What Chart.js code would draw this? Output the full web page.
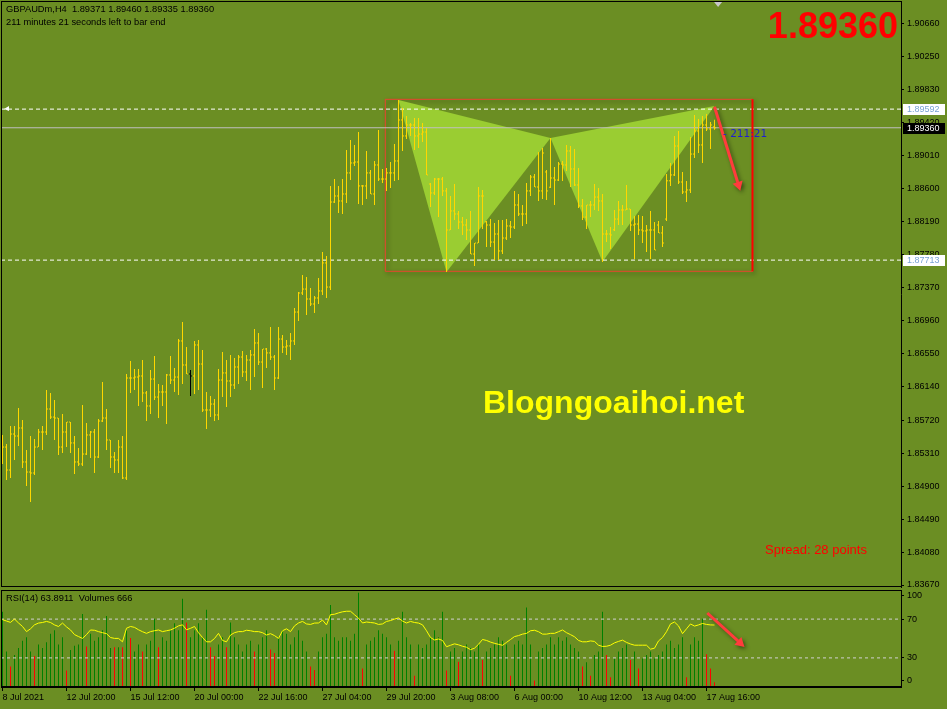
<!DOCTYPE html>
<html><head><meta charset="utf-8">
<script src="https://cdn.jsdelivr.net/npm/chart.js@4.4.0/dist/chart.umd.min.js"></script>
<style>
html,body{margin:0;padding:0;background:#6B8E23;}
#wrap{position:relative;width:947px;height:709px;overflow:hidden;background:#6B8E23;font-family:"Liberation Sans",Arial,sans-serif;}
#main{position:absolute;left:0;top:0;}
#sub{position:absolute;left:0;top:585px;}
.t{position:absolute;white-space:pre;z-index:5;}
</style></head><body>
<div id="wrap">
<canvas id="main" width="947" height="592"></canvas>
<canvas id="sub" width="947" height="124"></canvas>
<div class="t" id="title1" style="left:6px;top:5.4px;font-size:9.3px;line-height:9.3px;color:#000;"></div>
<div class="t" id="title2" style="left:6px;top:18.3px;font-size:9.3px;line-height:9.3px;color:#000;"></div>
<div class="t" id="bigPrice" style="right:49px;top:7.5px;font-size:36px;line-height:36px;font-weight:bold;color:#ff0000;text-align:right;"></div>
<div class="t" id="spread" style="left:765px;top:543px;font-size:13px;line-height:13px;color:#ff0000;"></div>
<div class="t" id="mark" style="left:483px;top:386px;font-size:32px;line-height:32px;font-weight:bold;color:#ffff00;"></div>
<div class="t" id="subTitle" style="left:6px;top:593.6px;font-size:9.3px;line-height:9.3px;color:#000;"></div>
</div>
<script>
// ---------- data ----------
const SYMBOL = 'GBPAUDm,H4';
const OPEN = [1.85350,1.85387,1.85101,1.85549,1.85524,1.85624,1.85201,1.85076,1.85064,1.85387,
1.85574,1.85574,1.85860,1.85760,1.85748,1.85387,1.85574,1.85698,1.85438,1.85201,
1.85176,1.85300,1.85537,1.85574,1.85263,1.85711,1.85748,1.85475,1.85263,1.85226,
1.85387,1.85002,1.86246,1.86246,1.86258,1.86271,1.86060,1.85898,1.86233,1.86009,
1.86072,1.86072,1.86284,1.86221,1.86258,1.86707,1.86408,1.86296,1.86271,1.86657,
1.86420,1.85848,1.85848,1.85922,1.85786,1.86221,1.86309,1.86209,1.86159,1.86383,
1.86507,1.86321,1.86470,1.86533,1.86682,1.86445,1.86607,1.86558,1.86507,1.86246,
1.86731,1.86632,1.86645,1.86707,1.87067,1.87304,1.87353,1.87229,1.87167,1.87242,
1.87329,1.87678,1.87378,1.88436,1.88511,1.88449,1.88536,1.88798,1.88922,1.88934,
1.88636,1.88636,1.88798,1.88536,1.88897,1.88722,1.88722,1.88798,1.88798,1.88947,
1.89457,1.89258,1.89395,1.89395,1.89258,1.89282,1.89307,1.88660,1.88549,1.88722,
1.88722,1.88574,1.88088,1.88325,1.88287,1.88187,1.88150,1.88088,1.87789,1.87926,
1.88511,1.88190,1.88150,1.87938,1.88038,1.87827,1.87988,1.88138,1.88125,1.88399,
1.88287,1.88287,1.88574,1.88747,1.88623,1.88574,1.88810,1.88620,1.88735,1.88710,
1.88909,1.88897,1.89071,1.88847,1.88648,1.88387,1.88249,1.88399,1.88399,1.88498,
1.88449,1.88038,1.88038,1.88090,1.88224,1.88337,1.88337,1.88349,1.88150,1.88162,
1.88088,1.88076,1.88088,1.88088,1.88150,1.88051,1.88224,1.88700,1.88773,1.89133,
1.88685,1.88561,1.88586,1.89033,1.89320,1.89146,1.89395,1.89345,1.89371];
const HIGH = [1.85537,1.85425,1.85648,1.85648,1.85873,1.85723,1.85350,1.85524,1.85487,1.85611,
1.85648,1.86097,1.86060,1.85972,1.85748,1.85798,1.85698,1.85698,1.85524,1.85375,
1.85910,1.85686,1.85587,1.85611,1.85735,1.86196,1.85860,1.85475,1.85325,1.85475,
1.85524,1.86296,1.86458,1.86358,1.86358,1.86470,1.86085,1.86346,1.86520,1.86171,
1.86159,1.86296,1.86520,1.86371,1.86731,1.86943,1.86632,1.86346,1.86707,1.86719,
1.86595,1.86072,1.86022,1.85984,1.86358,1.86570,1.86470,1.86533,1.86495,1.86533,
1.86583,1.86533,1.86595,1.86855,1.86806,1.86607,1.86620,1.86880,1.86533,1.86880,
1.86781,1.86719,1.86806,1.87117,1.87316,1.87528,1.87503,1.87366,1.87267,1.87491,
1.87814,1.87765,1.88636,1.88722,1.88636,1.88722,1.89083,1.89208,1.89146,1.89307,
1.88648,1.89071,1.88835,1.88947,1.89332,1.88847,1.88860,1.88934,1.89158,1.89706,
1.89606,1.89507,1.89420,1.89482,1.89482,1.89420,1.89357,1.88673,1.88735,1.88735,
1.88747,1.88611,1.88511,1.88660,1.88325,1.88249,1.88224,1.88325,1.87926,1.88623,
1.88586,1.88200,1.88224,1.88175,1.88212,1.88212,1.88224,1.88200,1.88574,1.88536,
1.88399,1.88673,1.88773,1.88785,1.89058,1.89108,1.88835,1.89233,1.88872,1.88934,
1.88947,1.89146,1.89133,1.89095,1.88860,1.88474,1.88399,1.88449,1.88660,1.88611,
1.88536,1.88088,1.88125,1.88337,1.88449,1.88399,1.88648,1.88349,1.88262,1.88274,
1.88262,1.88150,1.88325,1.88187,1.88200,1.88138,1.88785,1.88922,1.89258,1.89320,
1.88810,1.88698,1.89245,1.89519,1.89469,1.89507,1.89532,1.89432,1.89460];
const LOW = [1.85176,1.84977,1.85002,1.85226,1.85400,1.85126,1.84902,1.84703,1.85039,1.85387,
1.85350,1.85537,1.85735,1.85475,1.85288,1.85313,1.85387,1.85313,1.85051,1.85151,
1.85151,1.85288,1.85251,1.85064,1.85251,1.85698,1.85350,1.85126,1.85064,1.85064,
1.84989,1.84977,1.86060,1.86097,1.85898,1.85947,1.85711,1.85798,1.85972,1.85748,
1.85898,1.85673,1.86171,1.86072,1.86035,1.86171,1.86296,1.86022,1.86047,1.86097,
1.85823,1.85611,1.85760,1.85711,1.85723,1.86009,1.85885,1.86009,1.86109,1.86171,
1.86258,1.86209,1.86097,1.86258,1.86408,1.86122,1.86371,1.86470,1.86097,1.86233,
1.86558,1.86533,1.86470,1.86657,1.86956,1.87279,1.87030,1.87142,1.87055,1.87167,
1.87279,1.87242,1.87341,1.88424,1.88300,1.88287,1.88424,1.88710,1.88885,1.88411,
1.88399,1.88474,1.88536,1.88399,1.88698,1.88673,1.88574,1.88611,1.88698,1.88710,
1.89071,1.89220,1.89258,1.89083,1.89108,1.89183,1.88773,1.88374,1.88524,1.88249,
1.88511,1.87565,1.88088,1.88212,1.88100,1.88026,1.87963,1.87789,1.87640,1.87926,
1.88100,1.87876,1.87876,1.87715,1.87715,1.87789,1.87963,1.87988,1.88100,1.88262,
1.88138,1.88162,1.88511,1.88623,1.88449,1.88474,1.88461,1.88611,1.88399,1.88698,
1.88698,1.88823,1.88623,1.88636,1.88362,1.88212,1.88100,1.88249,1.88337,1.88325,
1.87690,1.87938,1.87851,1.88076,1.88150,1.88150,1.88337,1.88076,1.87727,1.88026,
1.87926,1.87814,1.87727,1.87839,1.88051,1.87876,1.88200,1.88636,1.88760,1.88660,
1.88536,1.88436,1.88549,1.88984,1.89046,1.88922,1.89320,1.89095,1.89335];
const CLOSE = [1.85387,1.85101,1.85549,1.85524,1.85624,1.85201,1.85076,1.85064,1.85387,1.85574,
1.85574,1.85860,1.85760,1.85748,1.85387,1.85574,1.85698,1.85438,1.85201,1.85176,
1.85300,1.85537,1.85574,1.85263,1.85711,1.85748,1.85475,1.85263,1.85226,1.85387,
1.85002,1.86246,1.86246,1.86258,1.86271,1.86060,1.85898,1.86233,1.86009,1.86072,
1.86072,1.86284,1.86221,1.86258,1.86707,1.86408,1.86296,1.86271,1.86657,1.86420,
1.85848,1.85848,1.85922,1.85786,1.86221,1.86309,1.86209,1.86159,1.86383,1.86507,
1.86321,1.86470,1.86533,1.86682,1.86445,1.86607,1.86558,1.86507,1.86246,1.86731,
1.86632,1.86645,1.86707,1.87067,1.87304,1.87353,1.87229,1.87167,1.87242,1.87329,
1.87678,1.87378,1.88436,1.88511,1.88449,1.88536,1.88798,1.88922,1.88934,1.88636,
1.88636,1.88798,1.88536,1.88897,1.88722,1.88722,1.88798,1.88798,1.88947,1.89457,
1.89258,1.89395,1.89395,1.89258,1.89282,1.89307,1.88773,1.88549,1.88722,1.88722,
1.88574,1.88088,1.88325,1.88287,1.88187,1.88150,1.88088,1.87789,1.87926,1.88511,
1.88511,1.88150,1.87938,1.88038,1.87827,1.87988,1.88138,1.88125,1.88399,1.88287,
1.88287,1.88574,1.88747,1.88623,1.88574,1.89046,1.88574,1.88735,1.88710,1.88909,
1.88897,1.89071,1.88847,1.88648,1.88387,1.88249,1.88399,1.88399,1.88498,1.88449,
1.88038,1.88038,1.88026,1.88224,1.88337,1.88337,1.88349,1.88150,1.88162,1.88088,
1.88076,1.88088,1.88088,1.87839,1.88051,1.87926,1.88700,1.88773,1.89133,1.88685,
1.88561,1.88586,1.89033,1.89320,1.89146,1.89395,1.89345,1.89395,1.89360];
const RSI = [69.4,68,66.6,70.1,66,62.4,57.1,60,64.1,65.9,
66.5,67.6,66.5,64,62.4,65.9,62,58.8,54,52,
50.1,54,58.8,58.5,57.1,56,55,51,50.1,50.1,
46.6,60.6,62.4,61.5,59,57,55.3,57.1,58,58.8,
57.1,58,58.8,60.6,63,64.1,59,60.5,62.4,56,
51,46.6,46.6,50,55.3,48,46.6,53.6,56,57.1,
57.1,58.5,58,57.1,57.1,56,53.6,55,53,50.1,
58,60,57.1,63,66,67.6,65,64.5,65.9,66,
69,64,74.6,75,76.4,77.5,78.1,78.1,74.5,71,
66,67,66.5,66,64.5,65,67.6,68.5,70,71.2,
68,66,67.6,66.5,65.9,64.1,58,51,48.5,49.5,
48,41.5,43,44.5,43.5,42,41,38.5,40,44,
49,48,46.3,45,44,43,46,49,52,53,
54.5,55.3,58,58.5,57,54.5,54.5,55.3,55.3,57,
58.8,56,54,51.8,48,46.6,46.6,47.5,47,43.1,
41.8,42,43.1,45.5,47,48.3,46,44.3,43.1,43.1,
43.1,43.1,39,40,47.5,51,57,65,67,63,
55,60,65,62.8,64,65.5,64.5,64,63.89];
const VOLUMES = [10600,5000,2900,4500,5500,6500,7000,5000,4370,6000,
5500,6300,7500,8000,6000,7000,2330,5200,5800,6000,
10300,5700,7500,6500,7000,8000,10000,5500,5600,5600,
5600,8000,6900,5000,6000,5000,6000,6500,9600,5600,
7000,6500,8000,9000,8000,12440,9100,7000,8000,9000,
7000,10900,5600,4370,6000,7000,5600,9100,7000,6000,
5000,6000,6500,5000,6000,7000,8000,5300,4800,7000,
8000,7500,6000,7000,8000,6500,5000,2900,2400,5000,
7000,7500,11570,7000,6500,7000,7000,6500,7500,13270,
2600,6000,6500,7000,8000,7500,7000,6000,5100,6500,
10600,7000,6000,1600,6000,5500,6000,7000,8000,7000,
10600,2330,5000,5500,3550,5000,6000,5500,5000,6000,
3800,5000,5500,6000,7000,6500,6000,1600,6000,6500,
6000,11200,6000,900,5000,5500,6000,7000,6000,7000,
6500,7000,6000,5500,5000,2900,3500,1600,4500,5000,
10600,4500,1360,4000,5000,5500,6000,3800,5000,2600,
4000,4500,5000,4000,4500,5000,6000,6500,5500,6000,
7000,1360,6000,7000,6500,9600,4600,2600,666];
const VOL_UP = [1,1,0,1,1,1,1,1,0,1, 1,1,1,1,1,1,0,1,1,1, 1,0,1,1,1,1,1,1,0,1,
0,1,0,1,1,0,1,1,1,0, 1,1,1,1,1,1,0,1,1,1, 1,1,0,0,1,1,0,1,1,1,
1,1,1,0,1,1,1,0,0,1, 1,1,1,1,1,1,1,0,0,1, 1,1,1,1,1,1,1,1,1,1,
0,1,1,1,1,1,1,1,0,1, 1,1,1,0,1,1,1,1,1,1, 1,0,1,1,0,1,1,1,1,1,
0,1,1,1,1,1,1,0,1,1, 1,1,1,0,1,1,1,1,1,1, 1,1,1,1,1,0,1,0,1,1,
1,0,0,1,1,1,1,0,1,0, 1,1,1,1,1,1,1,1,1,1, 1,0,1,1,1,1,0,0,0];
const X_LABEL_BARS = [0,16,32,48,64,80,96,112,128,144,160,176];
const X_LABELS = ['8 Jul 2021','12 Jul 20:00','15 Jul 12:00','20 Jul 00:00','22 Jul 16:00','27 Jul 04:00','29 Jul 20:00','3 Aug 08:00','6 Aug 00:00','10 Aug 12:00','13 Aug 04:00','17 Aug 16:00'];
const PRICE_TICKS = [1.90660,1.90250,1.89830,1.89420,1.89010,1.88600,1.88190,1.87780,1.87370,1.86960,1.86550,1.86140,1.85720,1.85310,1.84900,1.84490,1.84080,1.83670];
const RSI_TICKS = [0,30,70,100];
const RSI_LEVELS = [30,70];
const H_LEVELS = [1.89592,1.87713];
const BID = 1.89360;
const PATTERN_X = [99,111,137,150,178];          // X, A, B, C, D
const PATTERN_Y = [1.89706,1.87565,1.89233,1.87693,1.89631];
const BOX_X = [95.7,187.5];
const BOX_Y = [1.89714,1.87574];
const ARROW_X = [178,184];
const ARROW_Y = [1.89622,1.88648];
const RSI_ARROW_X = [176.2,184.4];
const RSI_ARROW_Y = [76.3,45.4];
const RSI_VALUE = 63.8911;
const VOLUME_NOW = 666;
const SPREAD = 28;
const TIMER = '211:21';
const TIMER_TEXT = '211 minutes 21 seconds left to bar end';
const SELECTED_BAR = 47;

// ---------- layout constants ----------
const X_MIN = -0.375, X_MAX = 224.625;
const Y_MIN = 1.836453, Y_MAX = 1.909375;
const FONT = "'Liberation Sans', Arial, sans-serif";
const GOLD = '#FFD700';
const n = CLOSE.length;
const IDX = CLOSE.map((_, i) => i);
const last = n - 1;

document.getElementById('title1').textContent = SYMBOL + '  ' + [OPEN[last],HIGH[last],LOW[last],CLOSE[last]].map(v=>v.toFixed(5)).join(' ');
document.getElementById('title2').textContent = TIMER_TEXT;
document.getElementById('bigPrice').textContent = BID.toFixed(5);
document.getElementById('spread').textContent = 'Spread: ' + SPREAD + ' points';
document.getElementById('mark').textContent = 'Blogngoaihoi.net';
document.getElementById('subTitle').textContent = 'RSI(14) ' + RSI_VALUE.toFixed(4) + '  Volumes ' + VOLUME_NOW;

Chart.defaults.font.family = FONT;

const shadowPlugin = {
  id: 'shadowP',
  beforeDatasetDraw(chart, args) {
    const ds = chart.data.datasets[args.index];
    if (ds.shadow) { const c = chart.ctx; c.save(); c.shadowColor = 'rgba(0,0,0,0.45)'; c.shadowBlur = 4; c.shadowOffsetX = 2; c.shadowOffsetY = 2; }
  },
  afterDatasetDraw(chart, args) {
    const ds = chart.data.datasets[args.index];
    if (ds.shadow) chart.ctx.restore();
  }
};
const framePlugin = {
  id: 'frameP',
  afterDraw(chart) {
    const a = chart.chartArea, c = chart.ctx;
    c.save(); c.strokeStyle = '#000'; c.lineWidth = 1;
    c.beginPath();
    c.moveTo(a.left + 0.5, a.top + 0.5); c.lineTo(a.left + 0.5, a.bottom - 0.5);
    c.moveTo(a.left, a.top + 0.5); c.lineTo(a.right, a.top + 0.5);
    c.moveTo(a.left, a.bottom - 0.5); c.lineTo(a.right, a.bottom - 0.5);
    c.stroke(); c.restore();
  }
};
const labelsPlugin = {
  id: 'labelsP',
  afterDraw(chart) {
    const c = chart.ctx, ys = chart.scales.y, xs = chart.scales.x, a = chart.chartArea;
    c.save();
    c.font = '9px ' + FONT; c.textBaseline = 'middle'; c.textAlign = 'left';
    const box = (v, bg, fg) => {
      const y = Math.round(ys.getPixelForValue(v));
      c.fillStyle = bg; c.fillRect(a.right + 2, y - 5, 42, 11);
      c.fillStyle = fg; c.fillText(v.toFixed(5), a.right + 6, y + 0.5);
    };
    H_LEVELS.forEach(v => box(v, '#ffffff', '#7aa3d4'));
    box(BID, '#000000', '#ffffff');
    c.font = '10.5px "DejaVu Sans", sans-serif'; c.textBaseline = 'alphabetic';
    c.fillStyle = '#1f1fd0';
    c.fillText('- ' + TIMER, xs.getPixelForValue(last) + 8.5, ys.getPixelForValue(BID) + 9);
    // chart-shift marker (small grey triangle on the top border)
    const sx = xs.getPixelForValue(last + 0.9);
    c.fillStyle = '#c8c8c8';
    c.beginPath(); c.moveTo(sx - 4, a.top + 1); c.lineTo(sx + 4, a.top + 1); c.lineTo(sx, a.top + 6); c.closePath(); c.fill();
    // anchor marker of the upper horizontal line
    const hy = ys.getPixelForValue(H_LEVELS[0]);
    c.fillStyle = '#ffffff';
    c.beginPath(); c.moveTo(a.left + 3, hy); c.lineTo(a.left + 8, hy - 3); c.lineTo(a.left + 8, hy + 2); c.closePath(); c.fill();
    c.restore();
  }
};
const noPadY = s => { s.width = 46; s.paddingTop = 0; s.paddingBottom = 0; s.paddingLeft = 0; s.paddingRight = 0; };

const hLine = (v, color, dash, width) => ({
  type: 'line', data: [{x: X_MIN, y: v}, {x: X_MAX, y: v}], borderColor: color, borderWidth: width || 1,
  borderDash: dash, pointRadius: 0, fill: false, order: 12
});
const pt = i => ({x: PATTERN_X[i], y: PATTERN_Y[i]});
const arrowRot = (xsArr, ysArr, yId) => (ctx) => {
  const ch = ctx.chart; const xs = ch.scales.x, ys = ch.scales[yId];
  if (!xs || !ys) return 0;
  const dx = xs.getPixelForValue(xsArr[1]) - xs.getPixelForValue(xsArr[0]);
  const dy = ys.getPixelForValue(ysArr[1]) - ys.getPixelForValue(ysArr[0]);
  return Math.atan2(dx, -dy) * 180 / Math.PI;
};
const colorFor = i => i === SELECTED_BAR ? '#000000' : GOLD;

new Chart(document.getElementById('main'), {
  type: 'line',
  data: { datasets: [
    { type: 'line', data: [{x:BOX_X[0],y:BOX_Y[0]},{x:BOX_X[1],y:BOX_Y[0]},{x:BOX_X[1],y:BOX_Y[1]},{x:BOX_X[0],y:BOX_Y[1]},{x:BOX_X[0],y:BOX_Y[0]}],
      borderColor: '#e8442f', borderWidth: 1, pointRadius: 0, fill: false, order: 20, shadow: true },
    { type: 'line', data: [pt(0), pt(1), pt(2), pt(0)], fill: 'shape', backgroundColor: '#9ACD32', borderWidth: 0, borderColor: 'rgba(0,0,0,0)', pointRadius: 0, order: 19 },
    { type: 'line', data: [pt(2), pt(3), pt(4), pt(2)], fill: 'shape', backgroundColor: '#9ACD32', borderWidth: 0, borderColor: 'rgba(0,0,0,0)', pointRadius: 0, order: 18 },
    hLine(H_LEVELS[0], '#ffffff', [4,3]),
    hLine(H_LEVELS[1], '#ffffff', [4,3]),
    hLine(BID, '#c0c0c0', []),
    { type: 'line', data: [{x:BOX_X[1],y:BOX_Y[0]},{x:BOX_X[1],y:BOX_Y[1]}], borderColor: '#ff0000', borderWidth: 2, pointRadius: 0, fill: false, order: 11 },
    { type: 'bar', data: IDX.map(i => ({x: i, y: [LOW[i], HIGH[i]]})), backgroundColor: IDX.map(colorFor),
      barThickness: 1, inflateAmount: 0, borderWidth: 0, order: 5 },
    { type: 'line', showLine: false, data: IDX.map(i => ({x: i - 0.25, y: OPEN[i]})), pointStyle: 'line', pointRadius: 0.5,
      pointBorderWidth: 1, pointBorderColor: IDX.map(colorFor), pointHoverRadius: 0, order: 4 },
    { type: 'line', showLine: false, data: IDX.map(i => ({x: i + 0.25, y: CLOSE[i]})), pointStyle: 'line', pointRadius: 0.5,
      pointBorderWidth: 1, pointBorderColor: IDX.map(colorFor), pointHoverRadius: 0, order: 4 },
    { type: 'line', data: [{x:ARROW_X[0],y:ARROW_Y[0]},{x:ARROW_X[1],y:ARROW_Y[1]}], borderColor: '#ff3c3c', borderWidth: 3,
      pointRadius: [0, 6], pointStyle: 'triangle', pointRotation: arrowRot(ARROW_X, ARROW_Y, 'y'),
      pointBackgroundColor: '#ff3c3c', pointBorderColor: '#ff3c3c', pointBorderWidth: 0, fill: false, shadow: true, order: 1 }
  ]},
  options: {
    responsive: false, animation: false, devicePixelRatio: 1, events: [],
    layout: { autoPadding: false, padding: { left: 1, top: 1, right: 0, bottom: 5 } },
    plugins: { legend: { display: false }, tooltip: { enabled: false } },
    scales: {
      x: { type: 'linear', min: X_MIN, max: X_MAX, display: false, offset: false, grid: { offset: false } },
      y: { type: 'linear', position: 'right', min: Y_MIN, max: Y_MAX,
        afterBuildTicks: s => { s.ticks = PRICE_TICKS.map(v => ({value: v})); },
        afterFit: noPadY,
        ticks: { color: '#000', font: { size: 9, family: FONT }, padding: 3, autoSkip: false, callback: v => v.toFixed(5) },
        grid: { drawOnChartArea: false, drawTicks: true, tickLength: 3, color: '#000' },
        border: { display: true, color: '#000', width: 1 } }
    }
  },
  plugins: [shadowPlugin, framePlugin, labelsPlugin]
});

new Chart(document.getElementById('sub'), {
  type: 'line',
  data: { datasets: [
    { type: 'bar', data: IDX.map(i => ({x: i, y: VOLUMES[i]})), yAxisID: 'yv',
      backgroundColor: IDX.map(i => VOL_UP[i] ? '#008000' : '#ff0000'), barThickness: 1, inflateAmount: 0, borderWidth: 0, order: 10 },
    { type: 'line', data: [{x:X_MIN,y:RSI_LEVELS[0]},{x:X_MAX,y:RSI_LEVELS[0]}], borderColor: '#d0d0d0', borderWidth: 1, borderDash: [3,3], pointRadius: 0, order: 8 },
    { type: 'line', data: [{x:X_MIN,y:RSI_LEVELS[1]},{x:X_MAX,y:RSI_LEVELS[1]}], borderColor: '#d0d0d0', borderWidth: 1, borderDash: [3,3], pointRadius: 0, order: 8 },
    { type: 'line', data: IDX.map(i => ({x: i, y: RSI[i]})), borderColor: '#ffff00', borderWidth: 1, pointRadius: 0, fill: false, order: 2 },
    { type: 'line', data: [{x:RSI_ARROW_X[0],y:RSI_ARROW_Y[0]},{x:RSI_ARROW_X[1],y:RSI_ARROW_Y[1]}], borderColor: '#ff3c3c', borderWidth: 3,
      pointRadius: [0, 6], pointStyle: 'triangle', pointRotation: arrowRot(RSI_ARROW_X, RSI_ARROW_Y, 'y'),
      pointBackgroundColor: '#ff3c3c', pointBorderColor: '#ff3c3c', pointBorderWidth: 0, fill: false, shadow: true, order: 1 }
  ]},
  options: {
    responsive: false, animation: false, devicePixelRatio: 1, events: [],
    layout: { autoPadding: false, padding: { left: 1, top: 5, right: 0, bottom: 0 } },
    plugins: { legend: { display: false }, tooltip: { enabled: false } },
    scales: {
      x: { type: 'linear', min: X_MIN, max: X_MAX, position: 'bottom', offset: false,
        afterBuildTicks: s => { s.ticks = X_LABEL_BARS.map(v => ({value: v})); },
        afterFit: s => { s.height = 22; s.paddingLeft = 0; s.paddingRight = 0; s.paddingTop = 0; s.paddingBottom = 0; },
        ticks: { align: 'start', autoSkip: false, maxRotation: 0, minRotation: 0, padding: 1, color: '#000',
          font: { size: 9, family: FONT }, callback: (v, i) => X_LABELS[i] },
        grid: { offset: false, drawOnChartArea: false, drawTicks: true, tickLength: 4, color: '#000' },
        border: { display: true, color: '#000' } },
      y: { type: 'linear', position: 'right', min: 0, max: 100,
        afterBuildTicks: s => { s.ticks = RSI_TICKS.map(v => ({value: v === 100 ? 94 : (v === 0 ? 7 : v)})); },
        afterFit: noPadY,
        ticks: { color: '#000', font: { size: 9, family: FONT }, padding: 3, autoSkip: false, callback: (v, i) => String(RSI_TICKS[i]) },
        grid: { drawOnChartArea: false, drawTicks: true, tickLength: 3, color: '#000' },
        border: { display: true, color: '#000' } },
      yv: { type: 'linear', display: false, min: 0, max: Math.max(...VOLUMES) * 1.03 }
    }
  },
  plugins: [shadowPlugin, framePlugin]
});
</script>
</body></html>
